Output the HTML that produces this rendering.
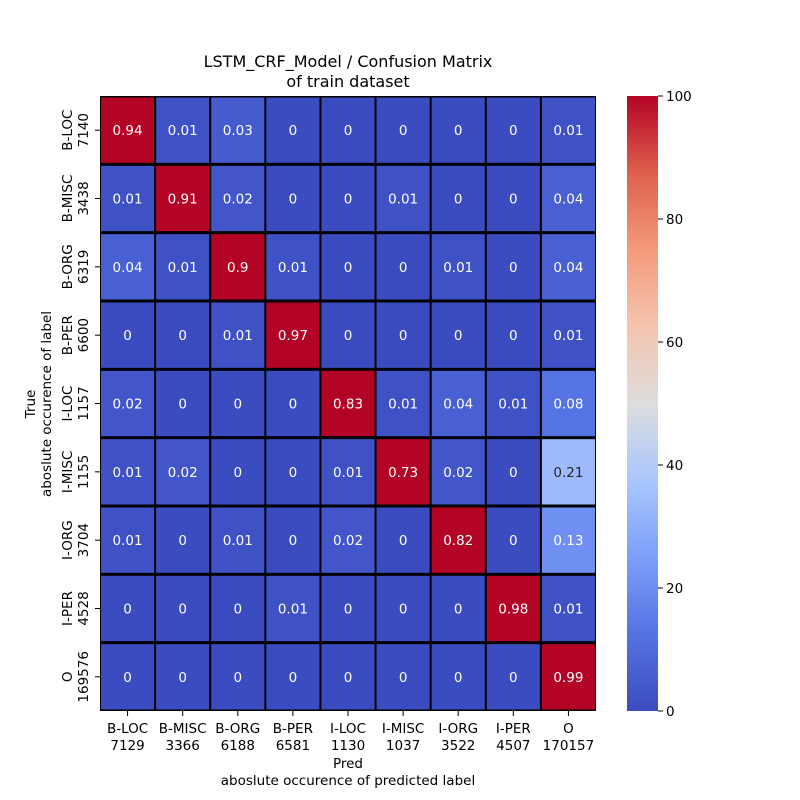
<!DOCTYPE html>
<html><head><meta charset="utf-8"><style>
body{margin:0;background:#fff}
svg{display:block;font-family:"DejaVu Sans","Liberation Sans",sans-serif}
</style></head><body>
<svg id="chart" width="800" height="800">
<defs><linearGradient id="cb" x1="0" y1="1" x2="0" y2="0"></linearGradient></defs>
<g id="title">
<text x="348" y="67" text-anchor="middle" font-size="16">LSTM_CRF_Model / Confusion Matrix</text>
<text x="348" y="87" text-anchor="middle" font-size="16">of train dataset</text>
</g>
<g id="cells"></g>
<g id="xt"></g>
<g id="yt"></g>
<g id="cbar"></g>
<text x="348" y="768" text-anchor="middle" font-size="13.5">Pred</text>
<text x="348" y="785" text-anchor="middle" font-size="13.5">aboslute occurence of predicted label</text>
<text transform="translate(35,404) rotate(-90)" text-anchor="middle" font-size="13.5">True</text>
<text transform="translate(51,404) rotate(-90)" text-anchor="middle" font-size="13.5">aboslute occurence of label</text>
</svg>
<script>
const labels=["B-LOC","B-MISC","B-ORG","B-PER","I-LOC","I-MISC","I-ORG","I-PER","O"];
const trueCounts=[7140,3438,6319,6600,1157,1155,3704,4528,169576];
const predCounts=[7129,3366,6188,6581,1130,1037,3522,4507,170157];
const matrix=[
[0.94,0.01,0.03,0,0,0,0,0,0.01],
[0.01,0.91,0.02,0,0,0.01,0,0,0.04],
[0.04,0.01,0.9,0.01,0,0,0.01,0,0.04],
[0,0,0.01,0.97,0,0,0,0,0.01],
[0.02,0,0,0,0.83,0.01,0.04,0.01,0.08],
[0.01,0.02,0,0,0.01,0.73,0.02,0,0.21],
[0.01,0,0.01,0,0.02,0,0.82,0,0.13],
[0,0,0,0.01,0,0,0,0.98,0.01],
[0,0,0,0,0,0,0,0,0.99]];
const cbTicks=[0,20,40,60,80,100];
const colorMax=0.62;
const NS="http://www.w3.org/2000/svg";
const X0=100,X1=596,Y0=96,Y1=711;
const cw=(X1-X0)/labels.length,ch=(Y1-Y0)/labels.length;
const xs=i=>X0+i*cw, ys=i=>Y0+i*ch;
const cbY=v=>Y1-(v/100)*(Y1-Y0);
const stops=[[59,76,192],[85,114,227],[124,159,249],[170,199,253],[221,221,221],[244,196,173],[244,154,123],[222,96,76],[180,4,38]];
function cmap(t){t=Math.max(0,Math.min(1,t));const p=t*8,i=Math.min(7,Math.floor(p)),f=p-i;const a=stops[i],b=stops[i+1];return [0,1,2].map(k=>Math.round(a[k]+(b[k]-a[k])*f));}
function mk(tag,at,par){const e=document.createElementNS(NS,tag);for(const k in at)e.setAttribute(k,at[k]);par.appendChild(e);return e;}
const cells=document.getElementById('cells');
mk('rect',{x:X0,y:Y0,width:X1-X0,height:Y1-Y0,fill:'#000'},cells);
matrix.forEach((row,r)=>row.forEach((v,c)=>{
 const col=cmap(v/colorMax);
 const rc=mk('rect',{x:xs(c)+1,y:ys(r)+1.5,width:cw-2,height:ch-3,fill:`rgb(${col})`},cells);
 
 
 const lum=(0.299*col[0]+0.587*col[1]+0.114*col[2])/255;
 const t=mk('text',{x:xs(c)+cw/2,y:ys(r)+ch/2+5,'text-anchor':'middle','font-size':'13.5',fill:lum>0.6?'#262626':'#fff'},cells);
 t.textContent=String(v);
 
 
}));
const xt=document.getElementById('xt');
labels.forEach((l,i)=>{
 const x=xs(i)+cw/2;
 mk('line',{x1:x,x2:x,y1:Y1,y2:Y1+5,stroke:'#000'},xt);
 const t=mk('text',{x:x,y:Y1+22,'text-anchor':'middle','font-size':'13.5'},xt);
 t.textContent=l;
 
 
 const t2=mk('text',{x:x,y:Y1+39,'text-anchor':'middle','font-size':'13.5'},xt);
 t2.textContent=predCounts[i];
 
 
});
const yt=document.getElementById('yt');
labels.forEach((l,i)=>{
 const y=ys(i)+ch/2;
 mk('line',{x1:X0-5,x2:X0,y1:y,y2:y,stroke:'#000'},yt);
 const t=mk('text',{transform:`translate(72,${y}) rotate(-90)`,'text-anchor':'middle','font-size':'13.5'},yt);
 t.textContent=l;
 
 
 const t2=mk('text',{transform:`translate(88,${y}) rotate(-90)`,'text-anchor':'middle','font-size':'13.5'},yt);
 t2.textContent=trueCounts[i];
 
 
});
const g=document.querySelector('#cb');
stops.forEach((s,i)=>mk('stop',{offset:(i/8*100)+'%','stop-color':`rgb(${s})`},g));
const cb=document.getElementById('cbar');
mk('rect',{x:627,y:Y0,width:31,height:Y1-Y0,fill:'url(#cb)'},cb);
cbTicks.forEach(v=>{
 const y=cbY(v);
 mk('line',{x1:658,x2:663,y1:y,y2:y,stroke:'#000'},cb);
 const t=mk('text',{x:666,y:y+5,'font-size':'13.5'},cb);
 t.textContent=v;
 
 
});
</script>
</body></html>
